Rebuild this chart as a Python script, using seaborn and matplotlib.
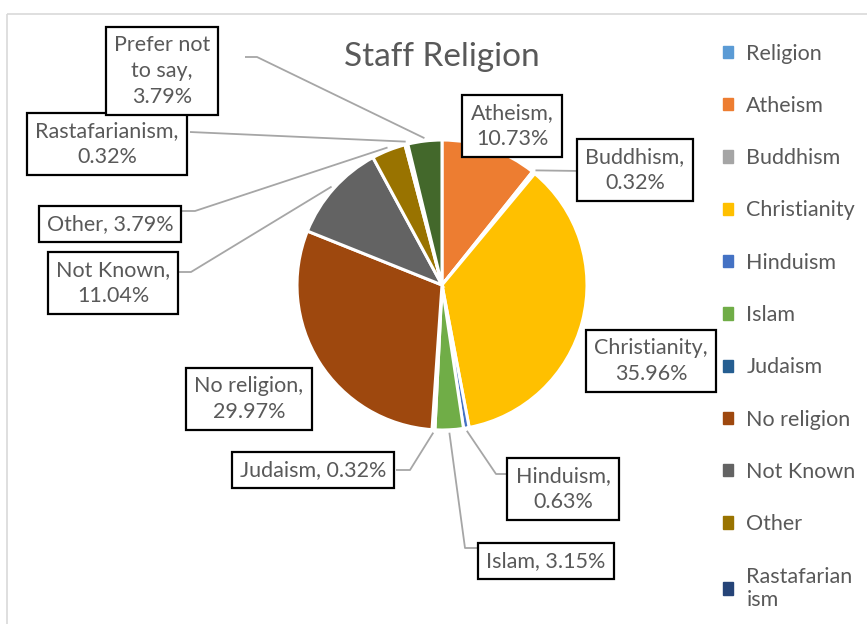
import matplotlib
matplotlib.use("Agg")
import matplotlib.pyplot as plt
from matplotlib.patches import Patch, Rectangle
import numpy as np
import seaborn as sns

# data (percent of staff)
categories = ["Religion", "Atheism", "Buddhism", "Christianity", "Hinduism", "Islam",
              "Judaism", "No religion", "Not Known", "Other", "Rastafarianism",
              "Prefer not to say"]
shares = [0.0, 10.73, 0.32, 35.96, 0.63, 3.15, 0.32, 29.97, 11.04, 3.79, 0.32, 3.79]
label_texts = ["", "Atheism,\n10.73%", "Buddhism,\n0.32%", "Christianity,\n35.96%",
               "Hinduism,\n0.63%", "Islam, 3.15%", "Judaism, 0.32%",
               "No religion,\n29.97%", "Not Known,\n11.04%", "Other, 3.79%",
               "Rastafarianism,\n0.32%", "Prefer not\nto say,\n3.79%"]
legend_labels = ["Religion", "Atheism", "Buddhism", "Christianity", "Hinduism", "Islam",
                 "Judaism", "No religion", "Not Known", "Other", "Rastafarian\nism"]
colors = ["#5B9BD5", "#ED7D31", "#A5A5A5", "#FFC000", "#4472C4", "#70AD47",
          "#255E91", "#9E480E", "#636363", "#997300", "#264478", "#43682B"]

# layout (pixel coords, y down)
CX, CY, R = 442, 285, 145
label_pos = {1: (512, 126), 2: (635, 170), 3: (651, 361), 4: (563, 489),
             5: (546, 561), 6: (313, 470), 7: (249, 399), 8: (113, 283),
             9: (110, 224), 10: (107, 144), 11: (162, 71)}
leader_pts = {2: [(581, 171)], 4: [(506, 474), (496, 474)], 5: [(477, 548), (465, 548)],
              6: [(396, 470), (410, 470)], 8: [(179, 272), (191, 272)],
              9: [(182, 211), (195, 211)], 10: [(190, 132)], 11: [(245, 57), (257, 57)]}

sns.set_theme(style="white")
plt.rcParams["font.family"] = ["Lato", "DejaVu Sans"]
txt_color = "#595959"

fig = plt.figure(figsize=(8.67, 6.24), dpi=100)
ax = fig.add_axes([0, 0, 1, 1])

wedges, _ = ax.pie(shares, colors=sns.color_palette(colors), startangle=270,
                   counterclock=True, radius=R, center=(CX, CY), frame=True,
                   wedgeprops=dict(edgecolor="white", linewidth=2.2))
ax.set_xlim(0, 867)
ax.set_ylim(624, 0)
ax.set_aspect("equal")
ax.axis("off")

# chart area border
ax.add_patch(Rectangle((7, 14), 900, 700, fill=False, ec="#d9d9d9", lw=1.2, zorder=0))

ax.text(442, 57, "Staff Religion", fontsize=24, color=txt_color, ha="center", va="center")

for i, w in enumerate(wedges):
    if i not in label_pos:
        continue
    mid = np.deg2rad((w.theta1 + w.theta2) / 2)
    anchor = (CX + R * 1.02 * np.cos(mid), CY + R * 1.02 * np.sin(mid))
    if i in leader_pts:
        pts = leader_pts[i] + [anchor]
        xs, ys = zip(*pts)
        ax.plot(xs, ys, color="#a6a6a6", lw=1.3, zorder=3, solid_capstyle="butt")
    x, y = label_pos[i]
    ax.text(x, y, label_texts[i], ha="center", va="center", fontsize=15.5,
            color=txt_color, linespacing=1.36, zorder=5,
            bbox=dict(boxstyle="square,pad=0.38", fc="white", ec="black", lw=1.6))

handles = [Patch(color=c) for c in colors[:11]]
fig.legend(handles=handles, labels=legend_labels, loc="upper left",
           bbox_to_anchor=(714 / 867, 1 - 35 / 624), frameon=False, fontsize=15.5,
           handlelength=0.5, handleheight=0.5, handletextpad=0.6, labelspacing=1.5,
           labelcolor=txt_color, borderaxespad=0)

fig.savefig("out.png", dpi=100)
